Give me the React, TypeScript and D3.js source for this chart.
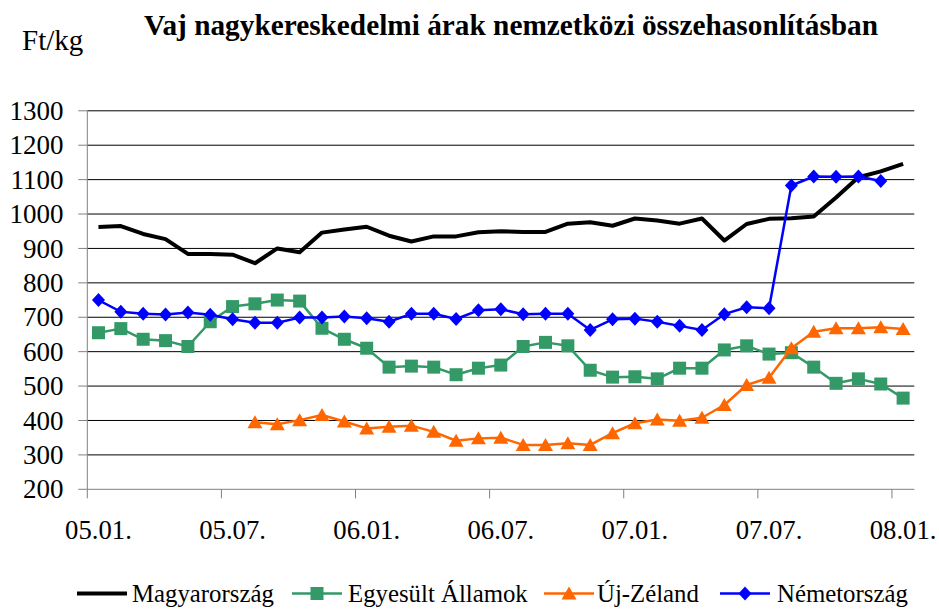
import React from "react";
import * as d3 from "d3";

const categories: string[] = [
  "05.01.", "05.02.", "05.03.", "05.04.", "05.05.", "05.06.",
  "05.07.", "05.08.", "05.09.", "05.10.", "05.11.", "05.12.",
  "06.01.", "06.02.", "06.03.", "06.04.", "06.05.", "06.06.",
  "06.07.", "06.08.", "06.09.", "06.10.", "06.11.", "06.12.",
  "07.01.", "07.02.", "07.03.", "07.04.", "07.05.", "07.06.",
  "07.07.", "07.08.", "07.09.", "07.10.", "07.11.", "07.12.",
  "08.01.",
];

const tickLabels: string[] = ["05.01.", "05.07.", "06.01.", "06.07.", "07.01.", "07.07.", "08.01."];
const yTicks: number[] = [200, 300, 400, 500, 600, 700, 800, 900, 1000, 1100, 1200, 1300];

const magyarorszag: (number | null)[] = [
  962, 965, 942, 927, 884, 884, 882, 857, 900, 889,
  946, 955, 963, 937, 920, 935, 935, 947, 950, 948,
  948, 972, 976, 966, 987, 981, 972, 987, 923, 971,
  986, 988, 993, 1048, 1107, 1124, 1146,
];

const egyesultAllamok: (number | null)[] = [
  655, 667, 636, 632, 615, 687, 731, 739, 750, 747,
  668, 636, 610, 555, 558, 555, 533, 552, 561, 615,
  627, 617, 546, 526, 527, 521, 552, 552, 605, 617,
  593, 597, 555, 508, 521, 506, 465,
];

const ujZeland: (number | null)[] = [
  null, null, null, null, null, null, null, 395, 389, 401,
  416, 397, 377, 382, 385, 367, 341, 348, 350, 329,
  329, 334, 329, 363, 392, 403, 399, 408, 445, 503,
  524, 610, 658, 668, 668, 671, 666,
];

const nemetorszag: (number | null)[] = [
  750, 716, 710, 708, 714, 707, 694, 684, 684, 699,
  699, 702, 697, 687, 710, 710, 695, 720, 723, 709,
  710, 710, 663, 694, 696, 687, 675, 663, 709, 729,
  726, 1083, 1109, 1108, 1109, 1096, null,
];

type Marker = "none" | "square" | "triangle" | "diamond";
interface Series { name: string; values: (number | null)[]; color: string; width: number; marker: Marker; }

const series: Series[] = [
  { name: "Magyarország", values: magyarorszag, color: "#000000", width: 4, marker: "none" },
  { name: "Egyesült Államok", values: egyesultAllamok, color: "#339966", width: 2.5, marker: "square" },
  { name: "Új-Zéland", values: ujZeland, color: "#FF6600", width: 2.5, marker: "triangle" },
  { name: "Németország", values: nemetorszag, color: "#0000FF", width: 2.5, marker: "diamond" },
];

const W = 939, H = 610;
const X0 = 87.3, X1 = 914.3, YTOP = 110.8, YBOT = 489.3;
const FONT = "'Liberation Serif', 'Times New Roman', Times, serif";
const ts = { fontFamily: FONT };

function markerPath(m: Marker, cx: number, cy: number): string {
  if (m === "square") { const s = 6.5; return `M${cx - s},${cy - s}H${cx + s}V${cy + s}H${cx - s}Z`; }
  if (m === "triangle") { return `M${cx},${cy - 7}L${cx + 7.5},${cy + 6}L${cx - 7.5},${cy + 6}Z`; }
  if (m === "diamond") { return `M${cx},${cy - 7}L${cx + 6.5},${cy}L${cx},${cy + 7}L${cx - 6.5},${cy}Z`; }
  return "";
}

export default function App() {
  const x = d3.scaleBand<string>().domain(categories).range([X0, X1]).padding(0);
  const bw = x.bandwidth();
  const cx = (c: string) => (x(c) as number) + bw / 2;
  const y = d3.scaleLinear().domain([200, 1300]).range([YBOT, YTOP]);

  const legendItems = [
    { lx: 77, tx: 132 },
    { lx: 292, tx: 348 },
    { lx: 544, tx: 597 },
    { lx: 720, tx: 777 },
  ];

  return (
    <svg width={W} height={H} style={{ display: "block", position: "absolute", left: 0, top: 0 }}>
      <rect width={W} height={H} fill="#fff" />
      <text x={511} y={35} textAnchor="middle" fontSize={29.3} fontWeight="bold" style={ts}>
        Vaj nagykereskedelmi árak nemzetközi összehasonlításban
      </text>
      <text x={22} y={50} fontSize={29} style={ts}>Ft/kg</text>

      {yTicks.map((t) => (
        <g key={t}>
          {t > 200 && <line x1={X0} x2={X1} y1={y(t)} y2={y(t)} stroke="#000" strokeWidth={1} />}
          <line x1={X0 - 9} x2={X0} y1={y(t)} y2={y(t)} stroke="#808080" strokeWidth={1} />
          <text x={63.5} y={y(t)} dy="0.34em" textAnchor="end" fontSize={27} style={ts}>{t}</text>
        </g>
      ))}
      <line x1={X0} x2={X0} y1={YTOP} y2={YBOT} stroke="#808080" strokeWidth={1} />
      <line x1={X0} x2={X1} y1={YBOT} y2={YBOT} stroke="#808080" strokeWidth={1} />
      {tickLabels.map((lab) => (
        <g key={lab}>
          <line x1={x(lab) as number} x2={x(lab) as number} y1={YBOT} y2={YBOT + 9} stroke="#808080" strokeWidth={1} />
          <text x={cx(lab)} y={539} textAnchor="middle" fontSize={26.7} style={ts}>{lab}</text>
        </g>
      ))}

      {series.map((s) => {
        const line = d3.line<number | null>()
          .defined((v) => v !== null)
          .x((_, i) => cx(categories[i]))
          .y((v) => y(v as number));
        return (
          <g key={s.name}>
            <path d={line(s.values) || ""} fill="none" stroke={s.color} strokeWidth={s.width} strokeLinejoin="round" />
            {s.marker !== "none" && s.values.map((v, i) => v === null ? null : (
              <path key={i} d={markerPath(s.marker, cx(categories[i]), y(v))} fill={s.color} />
            ))}
          </g>
        );
      })}

      {series.map((s, k) => {
        const it = legendItems[k];
        const ly = 593.5;
        return (
          <g key={s.name}>
            <line x1={it.lx} x2={it.lx + 50} y1={ly} y2={ly} stroke={s.color} strokeWidth={s.width} />
            {s.marker !== "none" && <path d={markerPath(s.marker, it.lx + 25, ly)} fill={s.color} />}
            <text x={it.tx} y={602} fontSize={24.8} style={ts}>{s.name}</text>
          </g>
        );
      })}
    </svg>
  );
}
